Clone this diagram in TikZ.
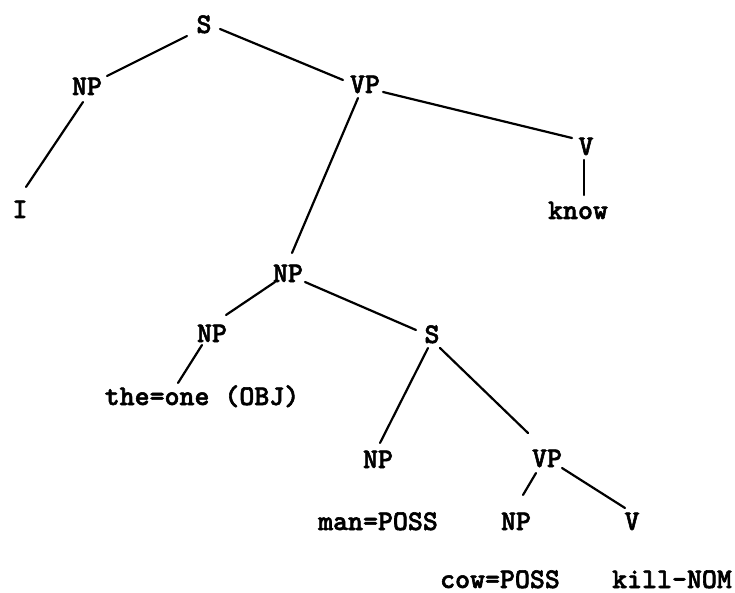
\documentclass[tikz,border=0pt]{standalone}
\usepackage{fontspec}
\newfontfamily\treefont{lmmonolt10-bold.otf}[FakeBold=2]
\usetikzlibrary{calc}
\tikzset{
  lbl/.style={inner sep=0pt, anchor=base, font=\treefont\fontsize{28.5}{32}\selectfont},
  branch/.style={line width=2.2pt, line cap=round}
}
\begin{document}
\begin{tikzpicture}[x=1pt,y=-1pt]
\useasboundingbox (0,0) rectangle (735,593);
% category labels and words, placed at their baselines
\node[lbl] (s1)      at (204,33)  {S};
\node[lbl] (np1)     at (87,95)   {NP};
\node[lbl] (vp1)     at (365,93)  {VP};
\node[lbl] (i)       at (20,218)  {I};
\node[lbl] (v1)      at (586,155) {V};
\node[lbl] (know)    at (578,219) {know};
\node[lbl] (np2)     at (288,282) {NP};
\node[lbl] (np3)     at (212,342) {NP};
\node[lbl] (s2)      at (432,343) {S};
\node[lbl] (theone)  at (202,405) {the=one (OBJ)};
\node[lbl] (np4)     at (378,468) {NP};
\node[lbl] (vp2)     at (547,467) {VP};
\node[lbl] (manposs) at (378,530) {man=POSS};
\node[lbl] (np5)     at (516,530) {NP};
\node[lbl] (v2)      at (632,530) {V};
\node[lbl] (cowposs) at (500,588) {cow=POSS};
\node[lbl] (killnom) at (672,588) {kill-NOM};
% branches
\draw[branch] ($(s1.base)+(-17,3)$)  -- ($(np1.base)+(20,-19)$);
\draw[branch] ($(s1.base)+(16,-4)$)  -- ($(vp1.base)+(-22,-13)$);
\draw[branch] ($(np1.base)+(-4,7)$)  -- ($(i.base)+(6,-31)$);
\draw[branch] ($(vp1.base)+(-7,5)$)  -- ($(np2.base)+(4,-29)$);
\draw[branch] ($(vp1.base)+(18,-1)$) -- ($(v1.base)+(-14,-17)$);
\draw[branch] ($(v1.base)+(-2,5)$)   -- ($(know.base)+(6,-24)$);
\draw[branch] ($(np2.base)+(-13,0)$) -- ($(np3.base)+(14,-27)$);
\draw[branch] ($(np2.base)+(17,0)$)  -- ($(s2.base)+(-16,-13)$);
\draw[branch] ($(np3.base)+(-10,3)$) -- ($(theone.base)+(-24,-22)$);
\draw[branch] ($(s2.base)+(-4,5)$)   -- ($(np4.base)+(2,-25)$);
\draw[branch] ($(s2.base)+(8,5)$)    -- ($(vp2.base)+(-19,-34)$);
\draw[branch] ($(vp2.base)+(-11,6)$) -- ($(np5.base)+(7,-35)$);
\draw[branch] ($(vp2.base)+(15,1)$)  -- ($(v2.base)+(-7,-22)$);
\end{tikzpicture}
\end{document}
